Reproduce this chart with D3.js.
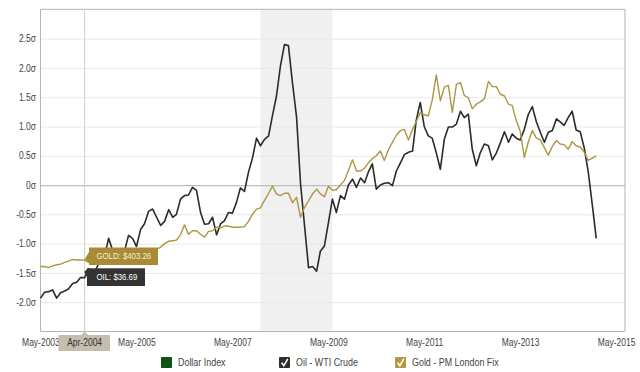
<!DOCTYPE html>
<html><head><meta charset="utf-8">
<script src="https://cdn.jsdelivr.net/npm/d3@7"></script>
<style>html,body{margin:0;padding:0;background:#fff;}svg{display:block;font-family:"Liberation Sans",Arial,sans-serif;}</style>
</head><body><div id="chart"></div>
<script>
// ---------------- data ----------------
const firstMonth = "May-2003";
const lastAxisMonth = "Jul-2015";
const oilValues = [
-1.93,-1.83,-1.82,-1.79,-1.93,-1.84,-1.81,-1.77,-1.68,-1.66,
-1.58,-1.58,-1.43,-1.53,-1.42,-1.25,-1.20,-0.91,-1.12,-1.31,
-1.17,-1.11,-0.86,-0.91,-1.05,-0.76,-0.66,-0.45,-0.41,-0.55,
-0.69,-0.62,-0.42,-0.55,-0.50,-0.24,-0.18,-0.17,-0.04,-0.09,
-0.47,-0.67,-0.66,-0.55,-0.85,-0.66,-0.61,-0.47,-0.48,-0.30,
-0.05,-0.11,0.22,0.46,0.80,0.67,0.78,0.84,1.18,1.52,
2.03,2.40,2.38,1.74,1.16,0.03,-0.70,-1.41,-1.39,-1.47,
-1.13,-1.04,-0.65,-0.24,-0.47,-0.18,-0.24,0.00,0.10,-0.04,
0.12,0.04,0.22,0.36,-0.07,0.00,0.03,0.04,-0.01,0.24,
0.38,0.52,0.56,0.58,1.10,1.41,1.00,0.84,0.80,0.55,
0.27,0.78,0.99,0.99,1.04,1.26,1.15,1.21,0.61,0.33,
0.55,0.70,0.67,0.43,0.55,0.72,0.91,0.73,0.87,0.80,
0.77,0.95,1.20,1.34,1.08,0.90,0.73,0.90,0.93,1.13,
1.08,1.02,1.15,1.26,0.94,0.91,0.63,0.23,-0.34,-0.91
];
const goldValues = [
-1.39,-1.39,-1.41,-1.38,-1.36,-1.35,-1.32,-1.30,-1.27,-1.28,
-1.28,-1.28,-1.32,-1.31,-1.29,-1.29,-1.28,-1.24,-1.20,-1.19,
-1.23,-1.23,-1.21,-1.22,-1.24,-1.22,-1.23,-1.20,-1.16,-1.10,
-1.06,-1.00,-0.96,-0.95,-0.94,-0.85,-0.68,-0.84,-0.78,-0.78,
-0.84,-0.89,-0.79,-0.78,-0.72,-0.73,-0.70,-0.70,-0.72,-0.72,
-0.72,-0.71,-0.62,-0.50,-0.41,-0.39,-0.26,-0.14,-0.02,-0.15,
-0.18,-0.14,-0.14,-0.30,-0.21,-0.55,-0.38,-0.27,-0.15,-0.07,
-0.15,-0.20,-0.02,-0.09,-0.08,0.00,0.08,0.25,0.43,0.24,
0.24,0.29,0.38,0.45,0.50,0.58,0.42,0.60,0.73,0.85,
0.93,0.95,0.77,0.95,1.08,1.24,1.20,1.18,1.45,1.88,
1.44,1.67,1.70,1.24,1.72,1.75,1.53,1.49,1.30,1.38,
1.42,1.47,1.77,1.68,1.68,1.55,1.52,1.38,1.36,1.10,
0.92,0.47,0.73,0.93,0.80,0.77,0.64,0.51,0.66,0.76,
0.70,0.69,0.61,0.74,0.67,0.65,0.56,0.42,0.46,0.50
];
const xTickLabels = ["May-2003","May-2005","May-2007","May-2009","May-2011","May-2013","May-2015"];
const yTickValues = [-2,-1.5,-1,-0.5,0,0.5,1,1.5,2,2.5];
const yTickLabels = ["-2.0σ","-1.5σ","-1.0σ","-0.5σ","0σ","0.5σ","1.0σ","1.5σ","2.0σ","2.5σ"];
const yDomain = [-2.5, 3];
const recessionMonths = ["Dec-2007","Jun-2009"];
const hoverMonth = "Apr-2004";
const hoverGoldLabel = "GOLD: $403.26";
const hoverOilLabel = "OIL: $36.69";
const legendLabels = ["Dollar Index","Oil - WTI Crude","Gold - PM London Fix"];

// ---------------- layout ----------------
const W = 640, H = 372, SX = 0.85, VW = W / SX;
const ux = v => v / SX;
const parseM = d3.timeParse("%b-%Y");
const fmtM = d3.timeFormat("%b-%Y");
const start = parseM(firstMonth);
const months = d3.range(oilValues.length).map(i => d3.timeMonth.offset(start, i));
const oilData = months.map((d, i) => ({date: d, v: oilValues[i]}));
const goldData = months.map((d, i) => ({date: d, v: goldValues[i]}));

const P = {left: ux(40.5), right: ux(625), top: 9.3, bottom: 331.5};
const endDate = d3.timeDay.offset(parseM(lastAxisMonth), 7);
const x = d3.scaleTime().domain([start, endDate]).range([P.left, P.right]);
const y = d3.scaleLinear().domain(yDomain).range([P.bottom, P.top]);

const svg = d3.select("#chart").append("svg")
  .attr("width", W).attr("height", H)
  .attr("viewBox", `0 0 ${VW} ${H}`).attr("preserveAspectRatio", "none");

// recession band
svg.append("rect")
  .attr("x", x(parseM(recessionMonths[0]))).attr("y", P.top)
  .attr("width", x(parseM(recessionMonths[1])) - x(parseM(recessionMonths[0])))
  .attr("height", P.bottom - P.top).attr("fill", "#f0f0f0");

// grid
const yAxis = d3.axisLeft(y).tickValues(yTickValues)
  .tickSize(-(P.right - P.left)).tickPadding(0)
  .tickFormat((d, i) => yTickLabels[i]);
const gy = svg.append("g").attr("transform", `translate(${P.left},0)`).call(yAxis);
gy.select(".domain").remove();
gy.selectAll(".tick line").attr("stroke", d => d === 0 ? "#bdbdbd" : "#e8e8e8")
  .attr("stroke-width", d => d === 0 ? 1.3 : 1).attr("vector-effect", "non-scaling-stroke");
gy.selectAll(".tick text").attr("x", ux(36) - P.left).attr("font-size", 10)
  .attr("fill", "#444").attr("font-family", "Liberation Sans, Arial, sans-serif");

// frame
svg.append("rect").attr("x", P.left).attr("y", P.top)
  .attr("width", P.right - P.left).attr("height", P.bottom - P.top)
  .attr("fill", "none").attr("stroke", "#b4b4b4").attr("vector-effect", "non-scaling-stroke");

// x axis labels
const xAxis = d3.axisBottom(x).tickValues(xTickLabels.map(parseM))
  .tickSize(0).tickPadding(0).tickFormat(fmtM);
const gx = svg.append("g").attr("transform", `translate(0,${P.bottom})`).call(xAxis);
gx.select(".domain").remove();
gx.selectAll(".tick text").attr("y", 15).attr("dy", 0).attr("font-size", 10)
  .attr("fill", "#444").attr("font-family", "Liberation Sans, Arial, sans-serif");

// hover crosshair
const hx = x(parseM(hoverMonth));
svg.append("line").attr("x1", hx).attr("x2", hx).attr("y1", P.top).attr("y2", P.bottom)
  .attr("stroke", "#d2cdc0").attr("vector-effect", "non-scaling-stroke");

// lines
const line = d3.line().x(d => x(d.date)).y(d => y(d.v));
svg.append("path").datum(oilData).attr("d", line).attr("fill", "none")
  .attr("stroke", "#2b2b2b").attr("stroke-width", 1.6).attr("stroke-linejoin", "round")
  .attr("vector-effect", "non-scaling-stroke");
svg.append("path").datum(goldData).attr("d", line).attr("fill", "none")
  .attr("stroke", "#ae9641").attr("stroke-width", 1.4).attr("stroke-linejoin", "round")
  .attr("vector-effect", "non-scaling-stroke");

// hover date label
const hg = svg.append("g");
hg.append("path").attr("d", `M${hx},${P.bottom}L${hx - ux(3.5)},${P.bottom + 3.5}L${hx + ux(3.5)},${P.bottom + 3.5}Z`).attr("fill", "#c4beae");
hg.append("rect").attr("x", ux(58.5)).attr("y", P.bottom + 3.5).attr("width", ux(51.5)).attr("height", 16).attr("fill", "#c4beae");
hg.append("text").attr("x", hx).attr("y", P.bottom + 15).attr("text-anchor", "middle")
  .attr("font-size", 10).attr("fill", "#333").text(hoverMonth);

// tooltips
const tg = svg.append("g");
tg.append("path").attr("d", `M${ux(89)},${252}L${ux(84.8)},${259}L${ux(89)},${263}Z`).attr("fill", "#a98b36");
tg.append("rect").attr("x", ux(89)).attr("y", 247.5).attr("width", ux(69)).attr("height", 17.5).attr("fill", "#a98b36");
tg.append("text").attr("x", ux(96.5)).attr("y", 259.5).attr("font-size", 9.2).attr("fill", "#f6eed8").text(hoverGoldLabel);
tg.append("path").attr("d", `M${ux(87)},${269}L${ux(84.3)},${272}L${ux(87)},${277}Z`).attr("fill", "#333");
tg.append("rect").attr("x", ux(87)).attr("y", 268.3).attr("width", ux(58)).attr("height", 17.7).attr("fill", "#333");
tg.append("text").attr("x", ux(96.5)).attr("y", 280.5).attr("font-size", 9.2).attr("fill", "#fff").text(hoverOilLabel);

// legend
const legendX = [161, 279, 395];
const legendFill = ["#0e5416", "#2e2e2e", "#b6983f"];
const legendChecked = [false, true, true];
const lg = svg.append("g");
legendLabels.forEach((lab, i) => {
  const bx = ux(legendX[i]);
  lg.append("rect").attr("x", bx).attr("y", 357).attr("width", ux(11)).attr("height", 11)
    .attr("rx", 1).attr("fill", legendFill[i]);
  if (legendChecked[i]) {
    lg.append("path").attr("d", `M${bx + ux(2.6)},${362.6}L${bx + ux(4.8)},${365.8}L${bx + ux(8.8)},${358.8}`)
      .attr("fill", "none").attr("stroke", "#fff").attr("stroke-width", 1.6)
      .attr("vector-effect", "non-scaling-stroke");
  }
  lg.append("text").attr("x", bx + ux(17)).attr("y", 366.5).attr("font-size", 10.5)
    .attr("fill", "#444").text(lab);
});
</script>
</body></html>
